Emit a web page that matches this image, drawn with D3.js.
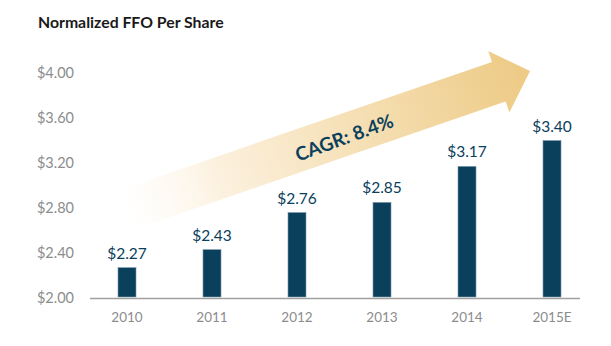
<!DOCTYPE html>
<html>
<head>
<meta charset="utf-8">
<script src="https://cdn.jsdelivr.net/npm/d3@7"></script>
<style>
  html, body { margin: 0; padding: 0; background: #fff; }
  svg { display: block; }
</style>
</head>
<body>
<svg id="chart" width="611" height="346"></svg>
<script>
const categories = ["2010", "2011", "2012", "2013", "2014", "2015E"];
const values = [2.27, 2.43, 2.76, 2.85, 3.17, 3.40];
const valueLabels = ["$2.27", "$2.43", "$2.76", "$2.85", "$3.17", "$3.40"];
const yTicks = [2.00, 2.40, 2.80, 3.20, 3.60, 4.00];
const title = "Normalized FFO Per Share";
const cagrText = "CAGR: 8.4%";

const svg = d3.select("#chart");
const barColor = "#0b405d";
const gray = "#8c8c8c";

const y = d3.scaleLinear().domain([2.0, 4.0]).range([298, 73]);
const x = d3.scaleBand().domain(categories).range([84.5, 594.5])
  .paddingInner(0.788).paddingOuter(0.394);

// Title
svg.append("text")
  .attr("x", 38).attr("y", 28)
  .attr("font-family", "Lato, 'Open Sans', sans-serif")
  .attr("font-weight", "bold")
  .attr("font-size", 15.8)
  .attr("fill", "#1a1a1a")
  .text(title);

// Gradient arrow annotation
const defs = svg.append("defs");
const grad = defs.append("linearGradient")
  .attr("id", "arrowGrad")
  .attr("gradientUnits", "userSpaceOnUse")
  .attr("x1", -440).attr("y1", 0).attr("x2", 0).attr("y2", 0);
grad.append("stop").attr("offset", 0).attr("stop-color", "#ffffff").attr("stop-opacity", 0);
grad.append("stop").attr("offset", 0.1).attr("stop-color", "#fefaf3").attr("stop-opacity", 0.6);
grad.append("stop").attr("offset", 0.25).attr("stop-color", "#fcf1df").attr("stop-opacity", 1);
grad.append("stop").attr("offset", 0.5).attr("stop-color", "#f7e4bf");
grad.append("stop").attr("offset", 1).attr("stop-color", "#edca84");

const arrowG = svg.append("g").attr("transform", "translate(530,71) rotate(-19)");
const L = 440, headLen = 33, headHalf = 32.5, shaftHalf = 21;
arrowG.append("path")
  .attr("d", `M0,0 L${-headLen},${-headHalf} L${-headLen},${-shaftHalf} L${-L},${-shaftHalf} L${-L},${shaftHalf} L${-headLen},${shaftHalf} L${-headLen},${headHalf} Z`)
  .attr("fill", "url(#arrowGrad)");

svg.append("text")
  .attr("transform", "translate(344,137) rotate(-20)")
  .attr("text-anchor", "middle")
  .attr("dominant-baseline", "central")
  .attr("font-family", "Lato, 'Open Sans', sans-serif")
  .attr("font-weight", "bold")
  .attr("font-size", 19)
  .attr("fill", barColor)
  .text(cagrText);

// Y tick labels
svg.append("g").selectAll("text").data(yTicks).join("text")
  .attr("x", 74).attr("y", d => y(d))
  .attr("dy", "0.36em")
  .attr("text-anchor", "end")
  .attr("font-family", "Lato, 'Open Sans', sans-serif")
  .attr("font-size", 14.5)
  .attr("fill", gray)
  .text(d => "$" + d.toFixed(2));

// Bars
svg.append("g").selectAll("rect").data(values).join("rect")
  .attr("x", (d, i) => x(categories[i]))
  .attr("width", x.bandwidth())
  .attr("y", d => y(d))
  .attr("height", d => y(2.0) - y(d) - 1)
  .attr("fill", barColor)
  .attr("stroke", "#7f9db0")
  .attr("stroke-width", 0.6);

// Value labels
svg.append("g").selectAll("text").data(values).join("text")
  .attr("x", (d, i) => x(categories[i]) + x.bandwidth() / 2)
  .attr("y", d => y(d) - 9)
  .attr("text-anchor", "middle")
  .attr("font-family", "Lato, 'Open Sans', sans-serif")
  .attr("font-size", 15.5)
  .attr("fill", barColor)
  .text((d, i) => valueLabels[i]);

// X axis line
svg.append("line")
  .attr("x1", 90).attr("x2", 580)
  .attr("y1", 298.5).attr("y2", 298.5)
  .attr("stroke", "#a0a0a0").attr("stroke-width", 1.5);

// X labels
svg.append("g").selectAll("text").data(categories).join("text")
  .attr("x", d => x(d) + x.bandwidth() / 2)
  .attr("y", 322)
  .attr("text-anchor", "middle")
  .attr("font-family", "Lato, 'Open Sans', sans-serif")
  .attr("font-size", 13.5)
  .attr("fill", gray)
  .text(d => d);
</script>
</body>
</html>
